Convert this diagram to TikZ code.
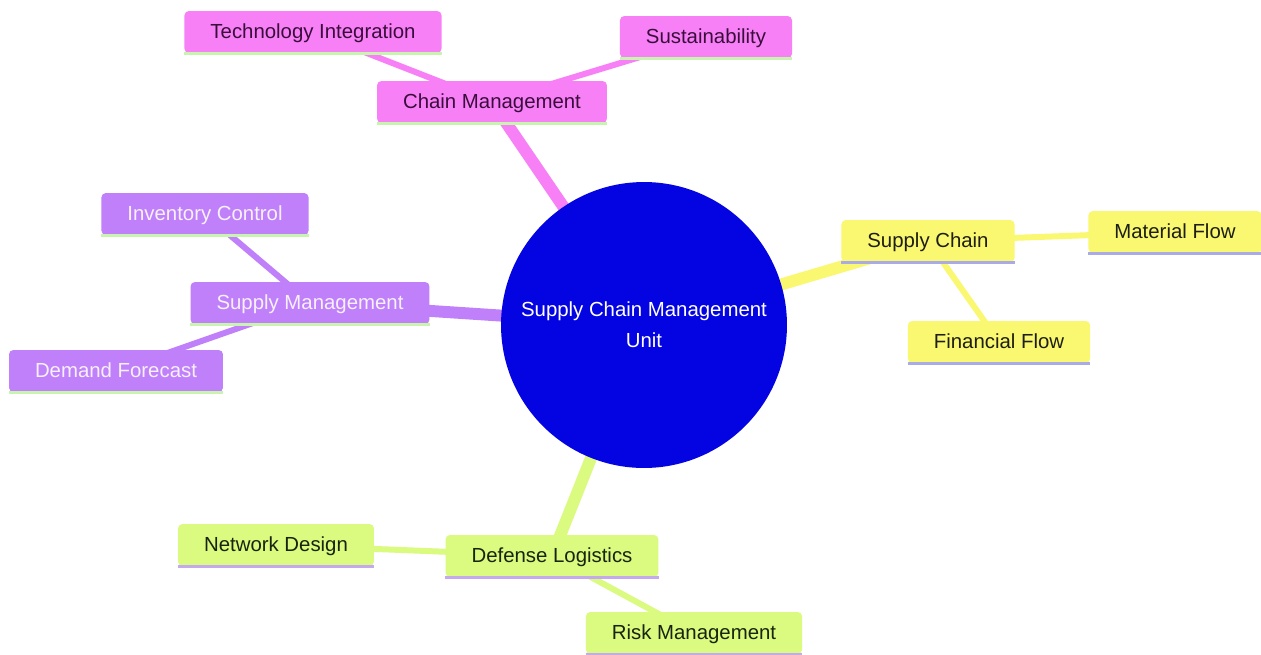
\documentclass[tikz,border=0pt]{standalone}
\usepackage{fontspec}
\setmainfont{Liberation Sans}
\pgfdeclarelayer{background}
\pgfsetlayers{background,main}
\definecolor{cMag}{RGB}{248,128,246}
\definecolor{cPur}{RGB}{192,128,250}
\definecolor{cYel}{RGB}{250,248,112}
\definecolor{cLim}{RGB}{218,250,128}
\definecolor{cBlue}{RGB}{4,4,226}
\definecolor{ulGreen}{RGB}{200,244,176}
\definecolor{ulLav}{RGB}{170,170,232}
\definecolor{ulPur}{RGB}{196,170,236}
\definecolor{tMag}{RGB}{58,14,60}
\definecolor{tPur}{RGB}{246,240,252}
\definecolor{tYel}{RGB}{30,30,20}
\definecolor{tLim}{RGB}{24,36,12}
\tikzset{
  box/.style={rounded corners=2.5pt, minimum height=0.84cm, inner xsep=0.52cm, inner ysep=0pt,
    text height=0.86em, text depth=0.08em,
    font=\fontsize{11.6}{14}\selectfont, anchor=center},
  magbox/.style={box, fill=cMag, text=tMag},
  purbox/.style={box, fill=cPur, text=tPur},
  yelbox/.style={box, fill=cYel, text=tYel},
  limbox/.style={box, fill=cLim, text=tLim},
  thick edge/.style={line width=6.8pt},
  thin edge/.style={line width=3.4pt},
  ul/.style={line width=1.7pt}
}
\begin{document}
\begin{tikzpicture}[x=0.02cm,y=-0.02cm]
\useasboundingbox (0,0) rectangle (1261,654);
% center
\node[circle, fill=cBlue, minimum size=5.72cm, inner sep=0pt, text=white, align=center,
  font=\fontsize{11.6}{17.6}\selectfont] (root) at (644,325) {Supply Chain Management\\Unit};
% chain management branch
\node[magbox] (cm) at (492,102) {Chain Management};
\node[magbox] (ti) at (313,32) {Technology Integration};
\node[magbox] (su) at (706,37) {Sustainability};
% supply chain branch
\node[yelbox] (sc) at (928,241) {Supply Chain};
\node[yelbox] (mf) at (1175,232) {Material Flow};
\node[yelbox] (ff) at (999,342) {Financial Flow};
% supply management branch
\node[purbox] (sm) at (310,303) {Supply Management};
\node[purbox] (ic) at (205,214) {Inventory Control};
\node[purbox] (df) at (116,371) {Demand Forecast};
% defense logistics branch
\node[limbox] (dl) at (552,556) {Defense Logistics};
\node[limbox] (nd) at (276,545) {Network Design};
\node[limbox] (rm) at (694,633) {Risk Management};
% underlines
\foreach \n in {cm,ti,su,sm,ic,df} \draw[ul, ulGreen] (\n.south west) -- (\n.south east);
\foreach \n in {sc,mf,ff} \draw[ul, ulLav] (\n.south west) -- (\n.south east);
\foreach \n in {dl,nd,rm} \draw[ul, ulPur] (\n.south west) -- (\n.south east);
% edges
\begin{pgfonlayer}{background}
\fill[white] (0,0) rectangle (1261,654);
\draw[thick edge, cMag] (root.center) -- (cm.center);
\draw[thin edge, cMag] (cm.center) -- (ti.center);
\draw[thin edge, cMag] (cm.center) -- (su.center);
\draw[thick edge, cYel] (root.center) -- (sc.center);
\draw[thin edge, cYel] (sc.center) -- (mf.center);
\draw[thin edge, cYel] (sc.center) -- (ff.center);
\draw[thick edge, cPur] (root.center) -- (sm.center);
\draw[thin edge, cPur] (sm.center) -- (ic.center);
\draw[thin edge, cPur] (sm.center) -- (df.center);
\draw[thick edge, cLim] (root.center) -- (dl.center);
\draw[thin edge, cLim] (dl.center) -- (nd.center);
\draw[thin edge, cLim] (dl.center) -- (rm.center);
\end{pgfonlayer}
\end{tikzpicture}
\end{document}
